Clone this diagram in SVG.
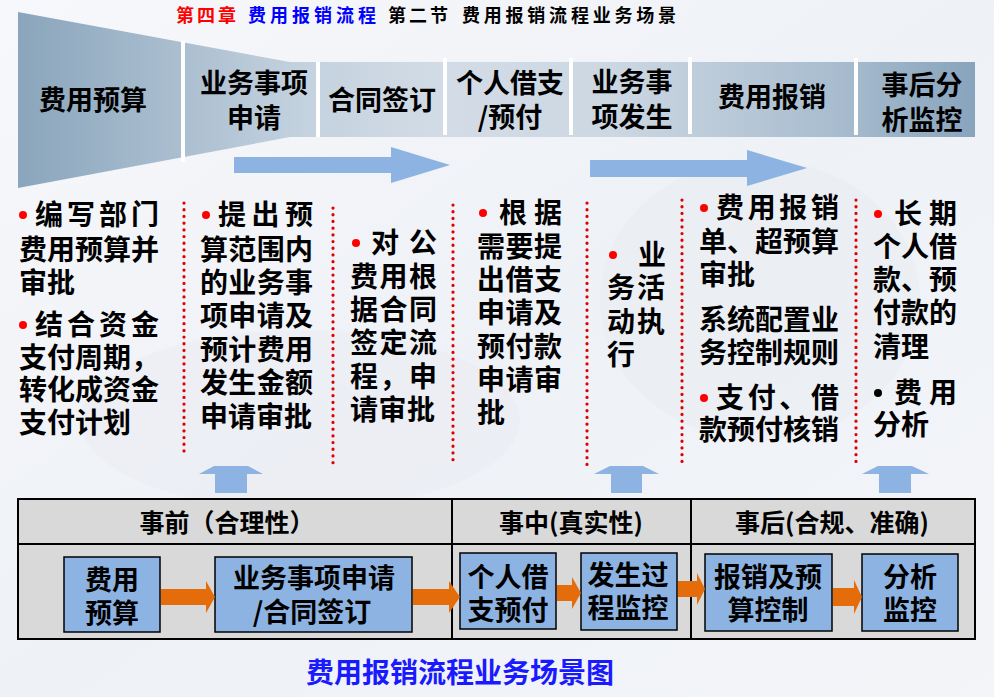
<svg xmlns="http://www.w3.org/2000/svg" width="994" height="697" viewBox="0 0 994 697">
<defs>
<linearGradient id="bg" x1="0" y1="0" x2="1" y2="1">
<stop offset="0" stop-color="#f7f8fb"/>
<stop offset="0.5" stop-color="#eef1f6"/>
<stop offset="1" stop-color="#f3f5f9"/>
</linearGradient>
<linearGradient id="band" gradientUnits="userSpaceOnUse" x1="18" y1="0" x2="975" y2="0">
<stop offset="0" stop-color="#8aa5bc"/>
<stop offset="0.3" stop-color="#c4d2df"/>
<stop offset="0.45" stop-color="#d3dce6"/>
<stop offset="0.62" stop-color="#ccd7e2"/>
<stop offset="0.85" stop-color="#a9bdcf"/>
<stop offset="1" stop-color="#88a4bc"/>
</linearGradient>
<style>
.t{font-family:"Noto Sans CJK SC","Noto Sans",sans-serif;font-weight:700;fill:#000}
.hd{font-size:27px;text-anchor:middle}
.bd{font-size:28px}
.bx{font-size:27px;text-anchor:middle}
.th{font-size:25px;text-anchor:middle}
.dot{stroke:#e00000;stroke-width:3.2;stroke-dasharray:0.1 6.6;stroke-linecap:round;fill:none}
.sep{stroke:#fff;stroke-width:4}
.blue{fill:#8db3e2}
.org{fill:#e46c0a}
.box{fill:#8db3e2;stroke:#000;stroke-width:1.5}
.ttl{font-family:"Noto Sans CJK SC","Noto Sans",sans-serif;font-weight:700;font-size:18px}
</style>
</defs>
<rect x="0" y="0" width="994" height="697" fill="url(#bg)"/>
<ellipse cx="760" cy="300" rx="160" ry="140" fill="#e6eaf0" opacity="0.45"/>
<ellipse cx="300" cy="420" rx="220" ry="90" fill="#e8ebf2" opacity="0.45"/>

<g id="title">
<text class="ttl" y="22"><tspan x="176" fill="#ff0000" textLength="60">第四章</tspan><tspan x="248" fill="#0000ff" textLength="128">费用报销流程</tspan><tspan x="388" fill="#000" textLength="60">第二节</tspan><tspan x="462" fill="#000" textLength="214">费用报销流程业务场景</tspan></text>
</g>

<g id="stage-band">
<polygon points="18,12 290,62 975,62 975,137 290,137 18,188" fill="url(#band)"/>
<line class="sep" x1="183" y1="41" x2="183" y2="162"/>
<line class="sep" x1="318" y1="62" x2="318" y2="137"/>
<line class="sep" x1="445" y1="58" x2="445" y2="135"/>
<line class="sep" x1="571" y1="58" x2="571" y2="135"/>
<line class="sep" x1="690" y1="57" x2="690" y2="134"/>
<line class="sep" x1="856" y1="58" x2="856" y2="135"/>
</g>
<g id="stage-budget"><text class="t hd" x="93" y="110">费用预算</text></g>
<g id="stage-apply"><text class="t hd" x="254" y="93">业务事项</text><text class="t hd" x="254" y="128">申请</text></g>
<g id="stage-contract"><text class="t hd" x="382" y="110">合同签订</text></g>
<g id="stage-loan"><text class="t hd" x="510" y="93">个人借支</text><text class="t hd" x="510" y="127">/预付</text></g>
<g id="stage-occur"><text class="t hd" x="632" y="92">业务事</text><text class="t hd" x="632" y="127">项发生</text></g>
<g id="stage-reimb"><text class="t hd" x="772" y="107">费用报销</text></g>
<g id="stage-after"><text class="t hd" x="922" y="95">事后分</text><text class="t hd" x="922" y="130">析监控</text></g>

<g id="dividers">
<line class="dot" x1="184" y1="203" x2="184" y2="453"/>
<line class="dot" x1="333" y1="208" x2="333" y2="465"/>
<line class="dot" x1="453" y1="205" x2="453" y2="466"/>
<line class="dot" x1="587" y1="203" x2="587" y2="466"/>
<line class="dot" x1="682" y1="200" x2="682" y2="463"/>
<line class="dot" x1="856" y1="200" x2="856" y2="463"/>
</g>

<g id="desc-budget">
<circle cx="23" cy="215" r="4" fill="#f00"/>
<text class="t bd" x="35" y="225" textLength="124" lengthAdjust="spacing">编写部门</text>
<text class="t bd" x="19" y="260" textLength="140" lengthAdjust="spacing">费用预算并</text>
<text class="t bd" x="19" y="293">审批</text>
<circle cx="23" cy="325" r="4" fill="#f00"/>
<text class="t bd" x="35" y="335" textLength="124" lengthAdjust="spacing">结合资金</text>
<text class="t bd" x="19" y="368">支付周期，</text>
<text class="t bd" x="19" y="400" textLength="140" lengthAdjust="spacing">转化成资金</text>
<text class="t bd" x="19" y="433">支付计划</text>
</g>

<g id="desc-apply">
<circle cx="206" cy="215" r="4" fill="#f00"/>
<text class="t bd" x="218" y="225" textLength="95" lengthAdjust="spacing">提出预</text>
<text class="t bd" x="200" y="260" textLength="113" lengthAdjust="spacing">算范围内</text>
<text class="t bd" x="200" y="293" textLength="113" lengthAdjust="spacing">的业务事</text>
<text class="t bd" x="200" y="326" textLength="113" lengthAdjust="spacing">项申请及</text>
<text class="t bd" x="200" y="360" textLength="113" lengthAdjust="spacing">预计费用</text>
<text class="t bd" x="200" y="393" textLength="113" lengthAdjust="spacing">发生金额</text>
<text class="t bd" x="200" y="427" textLength="112" lengthAdjust="spacing">申请审批</text>
</g>

<g id="desc-contract">
<circle cx="356" cy="243" r="4" fill="#f00"/>
<text class="t bd" x="371" y="253" textLength="66" lengthAdjust="spacing">对公</text>
<text class="t bd" x="350" y="287" textLength="87" lengthAdjust="spacing">费用根</text>
<text class="t bd" x="350" y="320" textLength="87" lengthAdjust="spacing">据合同</text>
<text class="t bd" x="350" y="353" textLength="87" lengthAdjust="spacing">签定流</text>
<text class="t bd" x="350" y="387" textLength="87" lengthAdjust="spacing">程，申</text>
<text class="t bd" x="350" y="420" textLength="85" lengthAdjust="spacing">请审批</text>
</g>

<g id="desc-loan">
<circle cx="483" cy="213" r="4" fill="#f00"/>
<text class="t bd" x="499" y="223" textLength="63" lengthAdjust="spacing">根据</text>
<text class="t bd" x="477" y="257" textLength="85" lengthAdjust="spacing">需要提</text>
<text class="t bd" x="477" y="290" textLength="85" lengthAdjust="spacing">出借支</text>
<text class="t bd" x="477" y="323" textLength="85" lengthAdjust="spacing">申请及</text>
<text class="t bd" x="477" y="357" textLength="85" lengthAdjust="spacing">预付款</text>
<text class="t bd" x="477" y="390" textLength="85" lengthAdjust="spacing">申请审</text>
<text class="t bd" x="477" y="423">批</text>
</g>

<g id="desc-occur">
<circle cx="613" cy="255" r="4" fill="#f00"/>
<text class="t bd" x="638" y="265">业</text>
<text class="t bd" x="607" y="298" textLength="58" lengthAdjust="spacing">务活</text>
<text class="t bd" x="607" y="332" textLength="58" lengthAdjust="spacing">动执</text>
<text class="t bd" x="607" y="365">行</text>
</g>

<g id="desc-reimb">
<circle cx="704" cy="208" r="4" fill="#f00"/>
<text class="t bd" x="716" y="218" textLength="123" lengthAdjust="spacing">费用报销</text>
<text class="t bd" x="699" y="252" textLength="140" lengthAdjust="spacing">单、超预算</text>
<text class="t bd" x="699" y="285">审批</text>
<text class="t bd" x="699" y="330" textLength="140" lengthAdjust="spacing">系统配置业</text>
<text class="t bd" x="699" y="363" textLength="140" lengthAdjust="spacing">务控制规则</text>
<circle cx="704" cy="398" r="4" fill="#f00"/>
<text class="t bd" x="716" y="408" textLength="123" lengthAdjust="spacing">支付、借</text>
<text class="t bd" x="699" y="440" textLength="140" lengthAdjust="spacing">款预付核销</text>
</g>

<g id="desc-after">
<circle cx="878" cy="214" r="4" fill="#f00"/>
<text class="t bd" x="894" y="224" textLength="63" lengthAdjust="spacing">长期</text>
<text class="t bd" x="873" y="257" textLength="84" lengthAdjust="spacing">个人借</text>
<text class="t bd" x="873" y="290" textLength="84" lengthAdjust="spacing">款、预</text>
<text class="t bd" x="873" y="323" textLength="84" lengthAdjust="spacing">付款的</text>
<text class="t bd" x="873" y="357">清理</text>
<circle cx="878" cy="393" r="4" fill="#000"/>
<text class="t bd" x="894" y="403" textLength="63" lengthAdjust="spacing">费用</text>
<text class="t bd" x="873" y="435">分析</text>
</g>

<g id="phase-table">
<rect x="18" y="499" width="957" height="140" fill="#d9d9d9" stroke="#000" stroke-width="2"/>
<line x1="18" y1="544" x2="975" y2="544" stroke="#000" stroke-width="2"/>
<line x1="452" y1="499" x2="452" y2="639" stroke="#000" stroke-width="2"/>
<line x1="691" y1="499" x2="691" y2="639" stroke="#000" stroke-width="2"/>
<text class="t th" x="227" y="532">事前（合理性）</text>
<text class="t th" x="571" y="532">事中(真实性)</text>
<text class="t th" x="832" y="532">事后(合规、准确)</text>
</g>
<g id="box-budget"><rect class="box" x="64" y="557" width="96" height="75"/><text class="t bx" x="112" y="590">费用</text><text class="t bx" x="112" y="623">预算</text></g>
<g id="box-apply"><rect class="box" x="215" y="557" width="197" height="75"/><text class="t bx" x="314" y="588">业务事项申请</text><text class="t bx" x="312" y="622">/合同签订</text></g>
<g id="box-loan"><rect class="box" x="460" y="553" width="96" height="76"/><text class="t bx" x="508" y="587">个人借</text><text class="t bx" x="508" y="620">支预付</text></g>
<g id="box-monitor"><rect class="box" x="581" y="553" width="96" height="77"/><text class="t bx" x="628" y="585">发生过</text><text class="t bx" x="628" y="618">程监控</text></g>
<g id="box-control"><rect class="box" x="705" y="554" width="127" height="77"/><text class="t bx" x="768" y="587">报销及预</text><text class="t bx" x="768" y="620">算控制</text></g>
<g id="box-analysis"><rect class="box" x="862" y="554" width="96" height="77"/><text class="t bx" x="910" y="587">分析</text><text class="t bx" x="910" y="620">监控</text></g>

<g id="connectors">
<polygon class="blue" points="234,157 391,157 391,147 450,165 391,183 391,173 234,173"/>
<polygon class="blue" points="590,160 747,160 747,150 807,168 747,186 747,177 590,177"/>
<polygon class="blue" points="215,493 215,474 199,474 214,466 248,466 263,474 247,474 247,493"/>
<polygon class="blue" points="611,493 611,474 594,474 610,466 643,466 659,474 642,474 642,493"/>
<polygon class="blue" points="879,493 879,474 862,474 878,466 912,466 929,474 911,474 911,493"/>
<polygon class="org" points="161,589 206,589 206,581 215,597 206,613 206,605 161,605"/>
<polygon class="org" points="413,589 449,589 449,581 460,597 449,613 449,605 413,605"/>
<polygon class="org" points="557,585 572,585 572,577 581,593 572,609 572,601 557,601"/>
<polygon class="org" points="678,581 697,581 697,573 705,589 697,605 697,597 678,597"/>
<polygon class="org" points="833,588 854,588 854,580 862,597 854,614 854,606 833,606"/>
</g>

<g id="caption"><text class="t" x="460" y="683" text-anchor="middle" font-size="28" style="fill:#1a1aff">费用报销流程业务场景图</text></g>
</svg>
